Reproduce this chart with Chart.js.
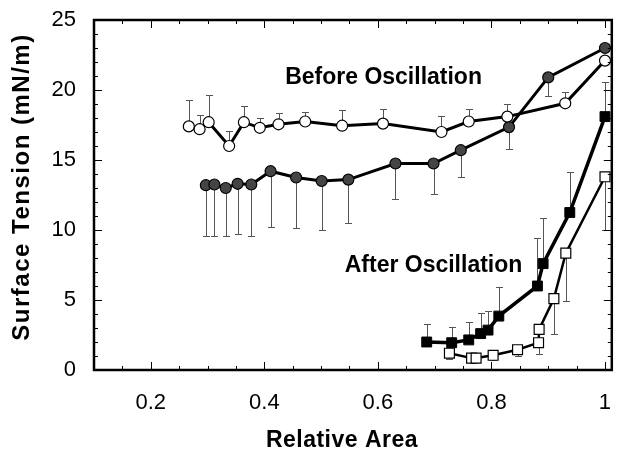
<!DOCTYPE html>
<html>
<head>
<meta charset="utf-8">
<script src="https://cdn.jsdelivr.net/npm/chart.js@4/dist/chart.umd.min.js"></script>
<style>
body { margin: 0; background: #fff; }
</style>
</head>
<body>
<canvas id="myChart" width="620" height="455"></canvas>
<script>
// tick labels
var xTicks = [0.2, 0.4, 0.6, 0.8, 1];
var yTicks = [0, 5, 10, 15, 20, 25];

// before oscillation, open circles (error bar up)
var beforeOpenX = [0.267, 0.286, 0.302, 0.338, 0.364, 0.392, 0.425, 0.472, 0.537, 0.609, 0.712, 0.760, 0.828, 0.930, 1.0];
var beforeOpenY = [17.4, 17.2, 17.7, 16.0, 17.7, 17.3, 17.55, 17.75, 17.45, 17.6, 17.0, 17.75, 18.1, 19.05, 22.1];
var beforeOpenErr = [1.9, 1.0, 1.95, 1.1, 1.15, 0.7, 0.8, 0.65, 1.15, 1.05, 1.15, 0.9, 0.9, 0.8, 0.3];

// before oscillation, filled circles (error bar down)
var beforeFilledX = [0.297, 0.312, 0.332, 0.353, 0.377, 0.411, 0.456, 0.501, 0.548, 0.631, 0.698, 0.746, 0.831, 0.900, 1.0];
var beforeFilledY = [13.2, 13.25, 13.0, 13.3, 13.25, 14.2, 13.75, 13.5, 13.6, 14.75, 14.75, 15.7, 17.35, 20.9, 23.0];
var beforeFilledErr = [3.6, 3.65, 3.45, 3.55, 3.65, 4.0, 3.6, 3.5, 3.1, 2.55, 2.2, 1.9, 1.6, 1.3, 0.3];

// after oscillation, filled squares (error bar up)
var afterFilledX = [0.686, 0.730, 0.760, 0.781, 0.794, 0.813, 0.881, 0.891, 0.938, 1.0];
var afterFilledY = [2.0, 1.95, 2.15, 2.6, 2.85, 3.85, 6.0, 7.6, 11.25, 18.1];
var afterFilledErr = [1.3, 1.15, 1.25, 1.45, 1.4, 2.1, 3.45, 3.25, 2.9, 2.5];

// after oscillation, open squares (error bar down)
var afterOpenX = [0.726, 0.765, 0.773, 0.803, 0.846, 0.883, 0.884, 0.910, 0.931, 1.0];
var afterOpenY = [1.2, 0.85, 0.85, 1.05, 1.45, 1.95, 2.9, 5.1, 8.35, 13.8];
var afterOpenErr = [0.4, 0.3, 0.3, 0.35, 0.45, 0.8, 0, 2.5, 3.45, 3.8];

var FONT = '"Liberation Sans", Arial, sans-serif';

function toPoints(xs, ys) {
  var pts = [];
  for (var i = 0; i < xs.length; i++) {
    pts.push({x: xs[i], y: ys[i]});
  }
  return pts;
}

var errorBars = {
  id: 'errorBars',
  beforeDatasetsDraw: function(chart) {
    var ctx = chart.ctx;
    var xs = chart.scales.x, ys = chart.scales.y;
    ctx.save();
    ctx.strokeStyle = '#555';
    ctx.lineWidth = 1;
    chart.data.datasets.forEach(function(ds) {
      ds.data.forEach(function(p, i) {
        if (!ds.err[i]) return;
        var px = Math.round(xs.getPixelForValue(p.x)) + 0.5;
        var y0 = ys.getPixelForValue(p.y);
        var y1 = Math.round(ys.getPixelForValue(p.y + ds.errDir * ds.err[i])) + 0.5;
        ctx.beginPath();
        ctx.moveTo(px, y0);
        ctx.lineTo(px, y1);
        ctx.moveTo(px - 3.5, y1);
        ctx.lineTo(px + 3.5, y1);
        ctx.stroke();
      });
    });
    ctx.restore();
  }
};

var frame = {
  id: 'frame',
  afterDraw: function(chart) {
    var a = chart.chartArea, ctx = chart.ctx;
    var xs = chart.scales.x, ys = chart.scales.y;
    ctx.save();
    ctx.strokeStyle = '#000';
    ctx.lineWidth = 1;
    // x ticks, minor every 0.05
    for (var k = 2; k <= 20; k++) {
      var px = Math.round(xs.getPixelForValue(k * 0.05)) + 0.5;
      var len = (k % 4 === 0) ? 8 : 4;
      ctx.beginPath();
      ctx.moveTo(px, a.bottom); ctx.lineTo(px, a.bottom - len);
      ctx.moveTo(px, a.top); ctx.lineTo(px, a.top + len);
      ctx.stroke();
    }
    // y ticks, minor every 1
    for (var j = 0; j <= 25; j++) {
      var py = Math.round(ys.getPixelForValue(j)) + 0.5;
      var l2 = (j % 5 === 0) ? 8 : 4;
      ctx.beginPath();
      ctx.moveTo(a.left, py); ctx.lineTo(a.left + l2, py);
      ctx.moveTo(a.right, py); ctx.lineTo(a.right - l2, py);
      ctx.stroke();
    }
    ctx.lineWidth = 2.5;
    ctx.strokeRect(a.left, a.top, a.right - a.left, a.bottom - a.top);

    ctx.fillStyle = '#000';
    ctx.textAlign = 'center';
    ctx.textBaseline = 'middle';

    // labels on the plot
    ctx.font = 'bold 23px ' + FONT;
    ctx.fillText('Before Oscillation', xs.getPixelForValue(0.61), ys.getPixelForValue(20.9));
    ctx.fillText('After Oscillation', xs.getPixelForValue(0.698), ys.getPixelForValue(7.43));

    // axis titles
    ctx.letterSpacing = '0.5px';
    ctx.font = 'bold 23px ' + FONT;
    ctx.fillText('Relative Area', 342, 441);
    ctx.letterSpacing = '1.5px';
    ctx.font = 'bold 24px ' + FONT;
    ctx.translate(22, 187);
    ctx.rotate(-Math.PI / 2);
    ctx.fillText('Surface Tension (mN/m)', 0, 0);
    ctx.restore();
  }
};

var ctx = document.getElementById('myChart').getContext('2d');
var chart = new Chart(ctx, {
  type: 'scatter',
  data: {
    datasets: [{
      label: 'Before open',
      data: toPoints(beforeOpenX, beforeOpenY),
      err: beforeOpenErr,
      errDir: 1,
      showLine: true,
      borderColor: '#000',
      borderWidth: 3,
      pointStyle: 'circle',
      pointRadius: 5.5,
      pointBorderWidth: 1.2,
      pointBackgroundColor: '#fff',
      pointBorderColor: '#000'
    }, {
      label: 'Before filled',
      data: toPoints(beforeFilledX, beforeFilledY),
      err: beforeFilledErr,
      errDir: -1,
      showLine: true,
      borderColor: '#000',
      borderWidth: 3,
      pointStyle: 'circle',
      pointRadius: 5.5,
      pointBorderWidth: 1.2,
      pointBackgroundColor: '#444',
      pointBorderColor: '#000'
    }, {
      label: 'After filled',
      data: toPoints(afterFilledX, afterFilledY),
      err: afterFilledErr,
      errDir: 1,
      showLine: true,
      borderColor: '#000',
      borderWidth: 3.5,
      pointStyle: 'rect',
      pointRadius: 7,
      pointBorderWidth: 1,
      pointBackgroundColor: '#000',
      pointBorderColor: '#000'
    }, {
      label: 'After open',
      data: toPoints(afterOpenX, afterOpenY),
      err: afterOpenErr,
      errDir: -1,
      showLine: true,
      borderColor: '#000',
      borderWidth: 2.5,
      pointStyle: 'rect',
      pointRadius: 7,
      pointBorderWidth: 1.2,
      pointBackgroundColor: '#fff',
      pointBorderColor: '#000'
    }]
  },
  options: {
    responsive: false,
    animation: false,
    devicePixelRatio: 1,
    layout: { padding: { top: 20, right: 4, left: 0, bottom: 0 } },
    plugins: {
      legend: { display: false },
      tooltip: { enabled: false }
    },
    scales: {
      x: {
        type: 'linear',
        min: 0.1,
        max: 1.012,
        afterBuildTicks: function(scale) {
          scale.ticks = xTicks.map(function(v) { return {value: v}; });
        },
        afterFit: function(scale) {
          scale.height = 85;
          scale.paddingLeft = 0;
          scale.paddingRight = 0;
        },
        grid: { display: false, drawTicks: false },
        border: { display: false },
        ticks: {
          padding: 20,
          autoSkip: false,
          maxRotation: 0,
          color: '#000',
          font: { family: FONT, size: 22 },
          callback: function(v) { return String(Number(v.toFixed(1))); }
        }
      },
      y: {
        min: 0,
        max: 25,
        afterBuildTicks: function(scale) {
          scale.ticks = yTicks.map(function(v) { return {value: v}; });
        },
        afterFit: function(scale) {
          scale.width = 94;
          scale.paddingTop = 0;
          scale.paddingBottom = 0;
        },
        grid: { display: false, drawTicks: false },
        border: { display: false },
        ticks: {
          padding: 18,
          color: '#000',
          font: { family: FONT, size: 22 }
        }
      }
    }
  },
  plugins: [errorBars, frame]
});
</script>
</body>
</html>
